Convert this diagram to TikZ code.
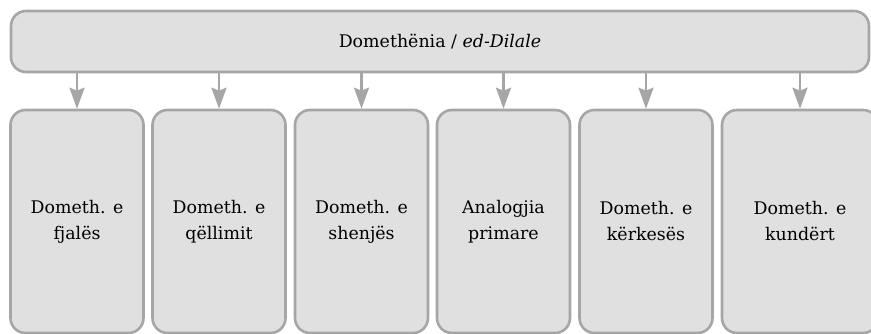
\documentclass[tikz,border=0pt]{standalone}
\usepackage{fontspec}
\setmainfont{DejaVu Serif}
\usetikzlibrary{arrows.meta}
\definecolor{boxfill}{HTML}{E0E0E0}
\definecolor{boxline}{HTML}{A6A6A6}
\begin{document}
\begin{tikzpicture}[x=1pt,y=-1pt,
  card/.style={draw=boxline, fill=boxfill, line width=2.6pt, rounded corners=15pt,
    align=center, font=\fontsize{17.4}{26}\selectfont, inner sep=0pt},
  leaf/.style={card, minimum width=133pt, minimum height=223pt},
  link/.style={draw=boxline, line width=2.6pt,
    -{Stealth[length=21pt,width=15pt,inset=3pt]}}]
\useasboundingbox (0,0) rectangle (871,334);
\clip (0,0) rectangle (871,334);

% main concept
\node[card, minimum width=858pt, minimum height=61pt] (top) at (440,41.5)
  {Domethënia / \textit{ed-Dilale}};

% six kinds of meaning
\node[leaf] (b1) at (77,221.5)  {Dometh. e\\fjalës};
\node[leaf] (b2) at (219,221.5) {Dometh. e\\qëllimit};
\node[leaf] (b3) at (361.5,221.5) {Dometh. e\\shenjës};
\node[leaf] (b4) at (503.5,221.5) {Analogjia\\primare};
\node[leaf] (b5) at (646,221.5) {Dometh. e\\kërkesës};
\node[leaf, minimum width=156pt] (b6) at (800,221.5) {Dometh. e\\kundërt};

% connectors
\foreach \b in {b1,b2,b3,b4,b5,b6}
  \draw[link] (top.south -| \b.north) -- (\b.north);
\end{tikzpicture}
\end{document}
